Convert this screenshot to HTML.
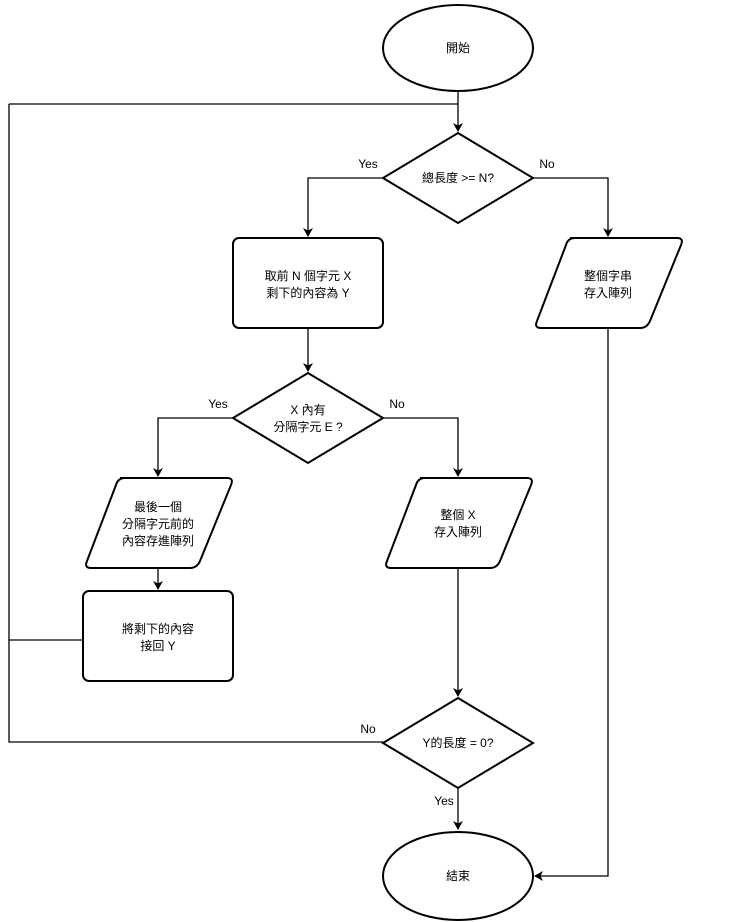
<!DOCTYPE html>
<html><head><meta charset="utf-8"><style>
html,body{margin:0;padding:0;background:#fff;}
svg{display:block;}
text{font-family:"Liberation Sans","Noto Sans CJK TC",sans-serif;font-size:12px;fill:#000;}
</style></head><body>
<svg width="734" height="922" viewBox="0 0 734 922" xmlns="http://www.w3.org/2000/svg">
<defs><marker id="a" markerWidth="10" markerHeight="10" refX="8" refY="5" orient="auto" markerUnits="userSpaceOnUse"><path d="M0,0 L9,5 L0,10 L2.5,5 Z" fill="#000"/></marker></defs>
<g fill="none" stroke="#000" stroke-width="1.3">
<path d="M458,91 V131" marker-end="url(#a)"/>
<path d="M9,104 H458" />
<path d="M383,178 H308 V236" marker-end="url(#a)"/>
<path d="M533,178 H608 V236" marker-end="url(#a)"/>
<path d="M308,328 V371" marker-end="url(#a)"/>
<path d="M233,418 H158 V476" marker-end="url(#a)"/>
<path d="M383,418 H458 V476" marker-end="url(#a)"/>
<path d="M158,568 V589" marker-end="url(#a)"/>
<path d="M83,640 H9 V742 H383"/>
<path d="M9,104 V640"/>
<path d="M458,568 V696" marker-end="url(#a)"/>
<path d="M458,788 V829" marker-end="url(#a)"/>
<path d="M608,328 V876 H535" marker-end="url(#a)"/>
</g>
<g fill="#fff" stroke="#000" stroke-width="2">
<ellipse cx="458" cy="48" rx="75" ry="43"/>
<path d="M458,133 L533,178 L458,223 L383,178 Z"/>
<rect x="233" y="238" width="150" height="90" rx="6"/>
<path d="M570,238 H677 Q684,238 681,245 L650,321 Q647,328 640,328 H541 Q534,328 537,321 L566,245 Q568,238 575,238 Z"/>
<path d="M308,373 L383,418 L308,463 L233,418 Z"/>
<path d="M120,478 H227 Q234,478 231,485 L200,561 Q197,568 190,568 H91 Q84,568 87,561 L116,485 Q118,478 125,478 Z"/>
<rect x="83" y="591" width="150" height="90" rx="6"/>
<path d="M420,478 H527 Q534,478 531,485 L500,561 Q497,568 490,568 H391 Q384,568 387,561 L416,485 Q418,478 425,478 Z"/>
<path d="M458,698 L533,743 L458,788 L383,743 Z"/>
<ellipse cx="458" cy="876" rx="75" ry="44"/>
</g>
<g text-anchor="middle">
<text x="458" y="52">開始</text>
<text x="458" y="182">總長度 &gt;= N?</text>
<text x="308" y="280">取前 N 個字元 X</text>
<text x="308" y="297">剩下的內容為 Y</text>
<text x="608" y="280">整個字串</text>
<text x="608" y="297">存入陣列</text>
<text x="308" y="414">X 內有</text>
<text x="308" y="431">分隔字元 E ?</text>
<text x="158" y="511">最後一個</text>
<text x="158" y="528">分隔字元前的</text>
<text x="158" y="545">內容存進陣列</text>
<text x="158" y="633">將剩下的內容</text>
<text x="158" y="650">接回 Y</text>
<text x="458" y="519">整個 X</text>
<text x="458" y="536">存入陣列</text>
<text x="458" y="747">Y的長度 = 0?</text>
<text x="458" y="880">結束</text>
<text x="368" y="168">Yes</text>
<text x="547" y="168">No</text>
<text x="218" y="408">Yes</text>
<text x="397" y="408">No</text>
<text x="368" y="733">No</text>
<text x="444" y="805">Yes</text>
</g>
</svg>
</body></html>
